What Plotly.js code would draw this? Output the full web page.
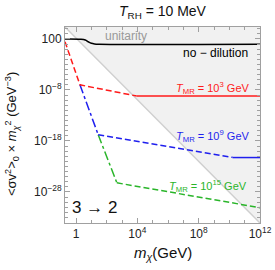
<!DOCTYPE html>
<html>
<head>
<meta charset="utf-8">
<script src="https://cdn.plot.ly/plotly-3.0.1.min.js"></script>
<style>html,body{margin:0;padding:0;background:#fff;}#chart{width:275px;height:270px;}</style>
</head>
<body>
<div id="chart"></div>
<script>
// unitarity bound (corner to corner of the frame)
const unitarityMass = [0.19, 1e12];
const unitarityBound = [2.2e4, 8e-35];

// no-dilution curve
const noDilMass = [0.19, 2, 4, 6.3, 10, 16, 32, 1e12];
const noDilValue = [100, 89, 63, 28, 14, 10.5, 9.3, 9.1];

// T_MR = 10^3 GeV
const redDashMass = [0.19, 1.8, 9e3];
const redDashValue = [30, 1e-7, 6.5e-10];
const redFlatMass = [9e3, 1e12];
const redFlatValue = [6.5e-10, 6.5e-10];

// T_MR = 10^9 GeV
const blueSteepMass = [1.8, 28];
const blueSteepValue = [1e-7, 1.6e-17];
const blueDashMass = [28, 1.6e10];
const blueDashValue = [1.6e-17, 6e-22];
const blueFlatMass = [1.6e10, 1e12];
const blueFlatValue = [5.5e-22, 5.5e-22];

// T_MR = 10^15 GeV
const greenSteepMass = [28, 460];
const greenSteepValue = [1.6e-17, 6e-27];
const greenDashMass = [460, 1e12];
const greenDashValue = [6e-27, 8e-32];

const xTickVals = [1, 1e4, 1e8, 1e12];
const xTickText = ['1', '10<sup>4</sup>', '10<sup>8</sup>', '10<sup>12</sup>'];
const yTickVals = [1e2, 1e-8, 1e-18, 1e-28];
const yTickText = ['100', '10<sup>−8</sup>', '10<sup>−18</sup>', '10<sup>−28</sup>'];

const xMinor = [];
for (let e = 0; e <= 12; e++) xMinor.push(Math.pow(10, e));
const yMinor = [];
for (let e = -34; e <= 4; e++) yMinor.push(Math.pow(10, e));

const RED = '#ff1a1a', BLUE = '#1f1fee', GREEN = '#2ab52a';

const traces = [
  {x: [unitarityMass[0], unitarityMass[1], unitarityMass[1], unitarityMass[0]],
   y: [unitarityBound[0], unitarityBound[1], unitarityBound[0], unitarityBound[0]],
   mode: 'lines', fill: 'toself', fillcolor: '#f1f1f1', line: {width: 0}, hoverinfo: 'skip'},
  {x: unitarityMass, y: unitarityBound, mode: 'lines', line: {color: '#cfcfcf', width: 1.5}},
  {x: greenSteepMass, y: greenSteepValue, mode: 'lines', line: {color: GREEN, width: 1.5, dash: 'dashdot'}},
  {x: greenDashMass, y: greenDashValue, mode: 'lines', line: {color: GREEN, width: 1.5, dash: '6px,3px'}},
  {x: blueSteepMass, y: blueSteepValue, mode: 'lines', line: {color: BLUE, width: 1.5, dash: 'dashdot'}},
  {x: blueDashMass, y: blueDashValue, mode: 'lines', line: {color: BLUE, width: 1.5, dash: '6px,3px'}},
  {x: blueFlatMass, y: blueFlatValue, mode: 'lines', line: {color: BLUE, width: 1.5}},
  {x: redDashMass, y: redDashValue, mode: 'lines', line: {color: RED, width: 1.5, dash: '6px,3px'}},
  {x: redFlatMass, y: redFlatValue, mode: 'lines', line: {color: RED, width: 1.5}},
  {x: noDilMass, y: noDilValue, mode: 'lines', line: {color: '#000', width: 1.6, shape: 'spline'}}
];

const F = 'Liberation Sans, Arial, sans-serif';
function px(x){return (x-65)/195;}
function py(y){return (223-y)/196;}

const layout = {
  width: 275, height: 270,
  margin: {l: 65, r: 15, t: 27, b: 47},
  paper_bgcolor: '#fff', plot_bgcolor: '#fff',
  showlegend: false,
  font: {family: F, size: 12, color: '#222'},
  title: {text: '<i>T</i><sub>RH</sub> = 10 MeV', font: {family: F, size: 14, color: '#111'},
          x: 0.5, xref: 'paper', y: 1 - 11/270, yref: 'container', yanchor: 'middle'},
  xaxis: {type: 'log', range: [-0.72, 12], showgrid: false, zeroline: false,
          showline: true, linecolor: '#a0a0a0', linewidth: 1, mirror: 'allticks',
          ticks: 'inside', ticklen: 5, tickcolor: '#a0a0a0', tickwidth: 1,
          tickmode: 'array', tickvals: xTickVals, ticktext: xTickText,
          tickfont: {family: F, size: 12, color: '#222'},
          minor: {tickmode: 'array', tickvals: xMinor, ticks: 'inside', ticklen: 3, tickcolor: '#a0a0a0', showgrid: false}},
  yaxis: {type: 'log', range: [-34.1, 4.35], showgrid: false, zeroline: false,
          showline: true, linecolor: '#a0a0a0', linewidth: 1, mirror: 'allticks',
          ticks: 'inside', ticklen: 5, tickcolor: '#a0a0a0', tickwidth: 1,
          tickmode: 'array', tickvals: yTickVals, ticktext: yTickText,
          tickfont: {family: F, size: 12, color: '#222'},
          minor: {tickmode: 'array', tickvals: yMinor, ticks: 'inside', ticklen: 3, tickcolor: '#a0a0a0', showgrid: false}},
  annotations: [
    {text: 'unitarity', xref: 'paper', yref: 'paper', x: px(126), y: py(36), showarrow: false,
     font: {family: F, size: 12, color: '#999'}, xanchor: 'center', yanchor: 'middle'},
    {text: 'no − dilution', xref: 'paper', yref: 'paper', x: px(215), y: py(53), showarrow: false,
     font: {family: F, size: 12, color: '#000'}, xanchor: 'center', yanchor: 'middle'},
    {text: '<i>T</i><sub>MR</sub> = 10<sup>3</sup> GeV', xref: 'paper', yref: 'paper', x: px(251), y: py(88), showarrow: false,
     font: {family: F, size: 11, color: RED}, xanchor: 'right', yanchor: 'middle'},
    {text: '<i>T</i><sub>MR</sub> = 10<sup>9</sup> GeV', xref: 'paper', yref: 'paper', x: px(251), y: py(136), showarrow: false,
     font: {family: F, size: 11, color: BLUE}, xanchor: 'right', yanchor: 'middle'},
    {text: '<i>T</i><sub>MR</sub> = 10<sup>15</sup> GeV', xref: 'paper', yref: 'paper', x: px(249), y: py(186), showarrow: false,
     font: {family: F, size: 11, color: GREEN}, xanchor: 'right', yanchor: 'middle'},
    {text: '3 → 2', xref: 'paper', yref: 'paper', x: px(70), y: py(207), showarrow: false,
     font: {family: F, size: 17, color: '#111'}, xanchor: 'left', yanchor: 'middle'},
    {text: '<i>m</i><sub><i>χ</i></sub>(GeV)', xref: 'paper', yref: 'paper', x: px(163), y: py(253), showarrow: false,
     font: {family: F, size: 15, color: '#111'}, xanchor: 'center', yanchor: 'middle'},
    {text: '<σv<sup>2</sup>><sub>0</sub> × <i>m</i><sub><i>χ</i></sub><sup>2</sup> (GeV<sup>−3</sup>)', xref: 'paper', yref: 'paper',
     x: px(12), y: py(134), showarrow: false, textangle: -90,
     font: {family: F, size: 13, color: '#111'}, xanchor: 'center', yanchor: 'middle'}
  ]
};

Plotly.newPlot('chart', traces, layout, {staticPlot: true, displayModeBar: false});
</script>
</body>
</html>
